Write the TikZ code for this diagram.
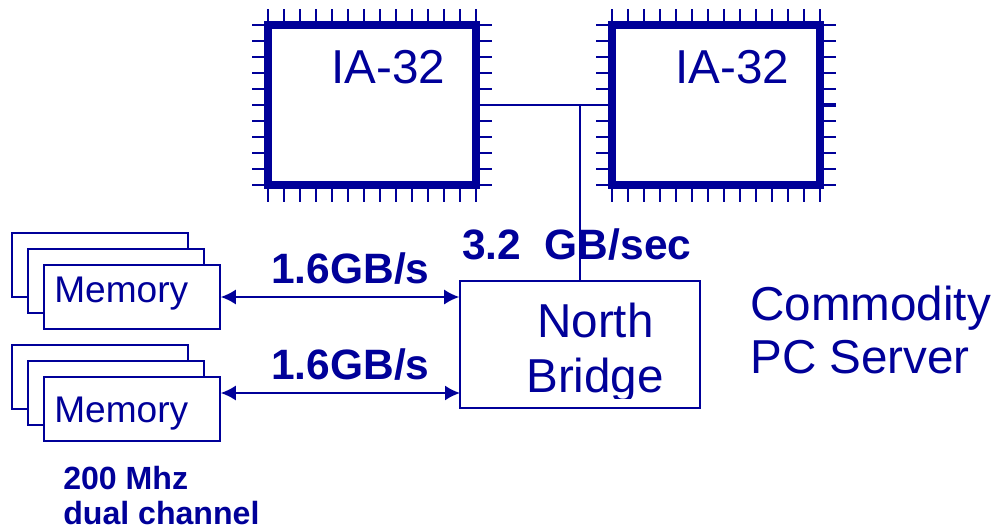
\documentclass[tikz,border=0pt]{standalone}
\usepackage{fontspec}
\setmainfont{Liberation Sans}
\usetikzlibrary{arrows.meta}
\definecolor{slateblue}{HTML}{000099}
\tikzset{
  chipbox/.style={draw=slateblue, line width=7.5*0.72pt, fill=white, minimum width=2.08in, minimum height=1.6in},
  pin/.style={slateblue, line width=0.8pt},
  wire/.style={slateblue, line width=1.3pt},
  membox/.style={draw=slateblue, line width=1.1pt, fill=white, minimum width=1.76in, minimum height=0.64in},
  bridgebox/.style={draw=slateblue, line width=1.1pt, fill=white, minimum width=2.4in, minimum height=1.27in},
  memlink/.style={wire, {Latex[length=0.15in,width=0.15in]}-{Latex[length=0.15in,width=0.15in]}},
  plain/.style={text=slateblue, font=\fontsize{34.4}{34.4}\selectfont, anchor=base west, inner sep=0pt},
  memtext/.style={text=slateblue, font=\fontsize{26.8}{26.8}\selectfont, anchor=base west, inner sep=0pt},
  rate/.style={text=slateblue, font=\fontsize{30.7}{30.7}\selectfont\bfseries, anchor=base west, inner sep=0pt},
  note/.style={text=slateblue, font=\fontsize{23.2}{23.2}\selectfont\bfseries, anchor=base west, inner sep=0pt}
}
\begin{document}
\begin{tikzpicture}[x=1in,y=-1in]
\useasboundingbox (0,0) rectangle (9.95,5.29);
% pins round both chips
\foreach \cx in {2.68,6.12} {
  \foreach \i in {0,...,13} {
    \draw[pin] ({\cx+0.16*\i},0.09) -- ({\cx+0.16*\i},0.21);
    \draw[pin] ({\cx+0.16*\i},1.89) -- ({\cx+0.16*\i},2.02);
  }
  \foreach \i in {0,...,10} {
    \draw[pin] ({\cx-0.16},{0.25+0.16*\i}) -- ({\cx-0.04},{0.25+0.16*\i});
    \draw[pin] ({\cx+2.12},{0.25+0.16*\i}) -- ({\cx+2.24},{0.25+0.16*\i});
  }
}
\node[chipbox] (cpua) at (3.72,1.05) {};
\node[chipbox] (cpub) at (7.16,1.05) {};
\node[plain] (cpualabel) at (3.31,0.83) {IA-32};
\node[plain] (cpublabel) at (6.75,0.83) {IA-32};
\coordinate (cpubpin) at (8.36,1.05);
\draw[slateblue, line width=2.2pt] (cpub.east) -- (cpubpin);
% memory stacks
\node[membox] (memaback) at (1.00,2.65) {};
\node[membox] (memamid) at (1.16,2.81) {};
\node[membox] (mema) at (1.32,2.97) {};
\node[memtext] (memalabel) at (0.54,3.02) {Memory};
\node[membox] (membback) at (1.00,3.77) {};
\node[membox] (membmid) at (1.16,3.93) {};
\node[membox] (memb) at (1.32,4.09) {};
\node[memtext] (memblabel) at (0.54,4.22) {Memory};
\node[bridgebox] (bridge) at (5.80,3.445) {};
\node[plain] (northlabel) at (5.37,3.37) {North};
\begin{scope}
\clip (5.0,3.4) rectangle (7.0,3.98);
\node[plain] (bridgelabel) at (5.26,3.92) {Bridge};
\end{scope}
% links
\draw[wire] (cpua) -- (cpub);
\coordinate (busjoin) at (bridge.north |- cpua);
\draw[wire] (bridge.north) -- (busjoin);
\coordinate (linka) at (bridge.west |- mema);
\coordinate (linkb) at (4.60,3.93);
\coordinate (linkbm) at (memb.east |- linkb);
\draw[memlink] (mema.east) -- (linka);
\draw[memlink] (linkbm) -- (linkb);
% labels
\node[rate] (ratea) at (2.71,2.83) {1.6GB/s};
\node[rate] (rateb) at (2.71,3.79) {1.6GB/s};
\node[rate] (ratec) at (4.62,2.59) {3.2\ \ GB/sec};
\node[plain] (commodity) at (7.50,3.20) {Commodity};
\node[plain] (pcserver) at (7.50,3.73) {PC Server};
\node[note] (speed) at (0.63,4.89) {200 Mhz};
\node[note] (channel) at (0.63,5.24) {dual channel};
\end{tikzpicture}
\end{document}
